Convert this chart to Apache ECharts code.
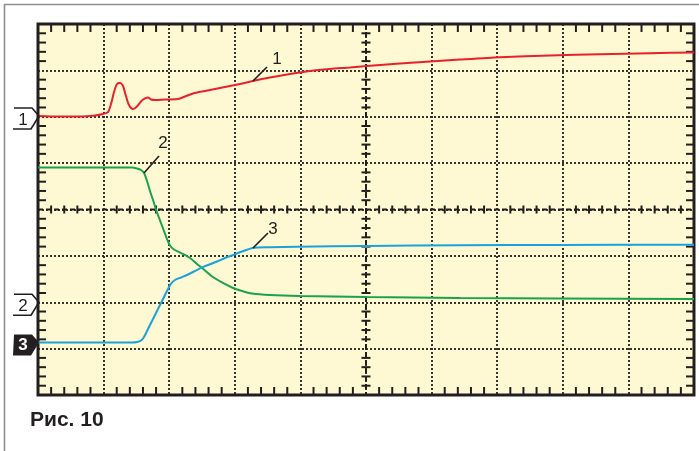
<!DOCTYPE html>
<html><head><meta charset="utf-8">
<script src="https://cdn.jsdelivr.net/npm/echarts@6/dist/echarts.min.js"></script>
<style>html,body{margin:0;padding:0;background:#fff}#c{width:699px;height:451px}</style>
</head><body><div id="c"></div>
<script>
// Screen divisions: x 0..10, y 0..8 (bottom = 0)
const trace1Points = [
  [0,6.016],[0.335,6.005],[0.640,6.005],[0.869,6.027],[0.991,6.059],[1.067,6.102],
  [1.113,6.275],[1.159,6.534],[1.204,6.706],[1.250,6.728],[1.296,6.663],[1.341,6.447],
  [1.387,6.253],[1.448,6.167],[1.509,6.221],[1.570,6.329],[1.631,6.394],[1.677,6.415],
  [1.723,6.372],[1.784,6.361],[1.936,6.372],[2.134,6.383],[2.241,6.437],[2.363,6.501],
  [2.546,6.555],[2.774,6.620],[3.079,6.706],[3.277,6.771],[3.537,6.846],[3.841,6.922],
  [4.146,6.987],[4.451,7.030],[4.756,7.062],[5.015,7.094],[5.518,7.148],[5.976,7.191],
  [6.433,7.234],[7.043,7.285],[7.805,7.321],[8.567,7.349],[9.329,7.371],[10,7.385]
];
const trace2Points = [
  [0,4.906],[0.640,4.906],[1.250,4.906],[1.433,4.906],[1.509,4.884],[1.570,4.852],
  [1.616,4.787],[1.662,4.615],[1.707,4.399],[1.761,4.173],[1.806,3.968],[1.860,3.763],
  [1.921,3.536],[1.966,3.364],[2.012,3.224],[2.073,3.137],[2.195,3.051],[2.317,2.954],
  [2.424,2.825],[2.546,2.685],[2.668,2.544],[2.805,2.426],[2.957,2.318],[3.110,2.243],
  [3.262,2.189],[3.537,2.156],[3.994,2.135],[5.015,2.113],[6.433,2.092],[7.957,2.081],[10,2.070]
];
const trace3Points = [
  [0,1.132],[0.640,1.132],[1.250,1.132],[1.433,1.132],[1.509,1.143],[1.570,1.175],
  [1.616,1.251],[1.677,1.423],[1.738,1.596],[1.799,1.768],[1.860,1.941],[1.921,2.113],
  [1.982,2.286],[2.027,2.404],[2.088,2.480],[2.180,2.534],[2.271,2.588],[2.378,2.663],
  [2.470,2.732],[2.591,2.803],[2.729,2.879],[2.851,2.954],[2.973,3.019],[3.110,3.094],
  [3.277,3.170],[3.537,3.185],[3.948,3.198],[5.015,3.213],[6.433,3.228],[7.957,3.235],[10,3.241]
];
const traceNames = ['1','2','3'];
const traceColors = ['#e8212b','#1aa24c','#1aa2dd'];
const labelAnchors = [[3.277,6.771],[1.616,4.787],[3.277,3.170]];
const markerNames = ['1','2','3'];
const markerLevels = [6.016, 2.0, 1.132];
const caption = 'Рис. 10';

// layout / style constants
const INK = '#231f20';
const leaderOffsets = [[14,-14],[15,-17],[15,-15]];
const textOffsets = [[24,-22],[19,-30],[20,-19]];

// minor-division tick positions: kind 0 = centre h-line, 1 = centre v-line,
// 2 = tick on centre h-line, 3 = tick on centre v-line,
// 4 = bottom border, 5 = top border, 6 = left border, 7 = right border
const tickItems = [[0,0],[1,0]];
for (let k = 1; k < 50; k++) { if (k % 5) { tickItems.push([2, k / 5]); tickItems.push([4, k / 5]); tickItems.push([5, k / 5]); } }
for (let k = 1; k < 40; k++) { if (k % 5) { tickItems.push([3, k / 5]); tickItems.push([6, k / 5]); tickItems.push([7, k / 5]); } }

function axisCfg(pos, isX, showSplit) {
  return {
    type: 'value', position: pos, min: 0, max: isX ? 10 : 8, interval: 1,
    axisLine: { show: false }, axisLabel: { show: false },
    axisTick: { show: false }, minorTick: { show: false },
    splitLine: { show: showSplit, lineStyle: { color: INK, width: 1.8, type: [2, 2] } },
    minorSplitLine: { show: false }
  };
}

const chart = echarts.init(document.getElementById('c'));
chart.setOption({
  backgroundColor: '#ffffff',
  animation: false,
  title: {
    text: caption, left: 25, top: 405,
    textStyle: { fontFamily: 'Liberation Sans', fontWeight: 'bold', fontSize: 21, color: INK }
  },
  grid: {
    left: 38, top: 24, width: 656, height: 371, show: true,
    backgroundColor: '#fef9d3', borderColor: INK, borderWidth: 3,
    containLabel: false, outerBoundsMode: 'none'
  },
  xAxis: [axisCfg('bottom', true, true), axisCfg('top', true, false)],
  yAxis: [axisCfg('left', false, true), axisCfg('right', false, false)],
  graphic: [
    { type: 'line', shape: { x1: 4, y1: 4.5, x2: 699, y2: 4.5 }, style: { stroke: '#8f8f8f', lineWidth: 1.6 }, silent: true },
    { type: 'line', shape: { x1: 4.5, y1: 4, x2: 4.5, y2: 451 }, style: { stroke: '#8f8f8f', lineWidth: 1.6 }, silent: true }
  ],
  series: [
    {
      type: 'custom', name: 'ticks', z: 2, silent: true, clip: false,
      data: tickItems,
      renderItem: function (params, api) {
        const cs = params.coordSys;
        const kind = api.value(0), pos = api.value(1);
        const c = api.coord([5, 4]);
        const st = { stroke: INK, lineWidth: 2 };
        const L = 8;
        let p;
        switch (kind) {
          case 0:
            return { type: 'line', shape: { x1: cs.x, y1: c[1], x2: cs.x + cs.width, y2: c[1] },
                     style: { stroke: INK, lineWidth: 2, lineDash: [5, 3] } };
          case 1:
            return { type: 'line', shape: { x1: c[0], y1: cs.y, x2: c[0], y2: cs.y + cs.height },
                     style: { stroke: INK, lineWidth: 2, lineDash: [5, 3] } };
          case 2:
            p = api.coord([pos, 4]);
            return { type: 'line', shape: { x1: p[0], y1: p[1] - 4, x2: p[0], y2: p[1] + 4 }, style: st };
          case 3:
            p = api.coord([5, pos]);
            return { type: 'line', shape: { x1: p[0] - 4.5, y1: p[1], x2: p[0] + 4.5, y2: p[1] }, style: st };
          case 4:
            p = api.coord([pos, 0]);
            return { type: 'line', shape: { x1: p[0], y1: p[1], x2: p[0], y2: p[1] - L }, style: st };
          case 5:
            p = api.coord([pos, 8]);
            return { type: 'line', shape: { x1: p[0], y1: p[1], x2: p[0], y2: p[1] + L }, style: st };
          case 6:
            p = api.coord([0, pos]);
            return { type: 'line', shape: { x1: p[0], y1: p[1], x2: p[0] + L, y2: p[1] }, style: st };
          default:
            p = api.coord([10, pos]);
            return { type: 'line', shape: { x1: p[0], y1: p[1], x2: p[0] - L, y2: p[1] }, style: st };
        }
      }
    },
    ...[trace1Points, trace2Points, trace3Points].map((d, i) => ({
      type: 'line', name: traceNames[i], data: d, z: 3, showSymbol: false, symbol: 'none',
      smooth: 0.25, lineStyle: { color: traceColors[i], width: 2 }, silent: true
    })),
    {
      type: 'custom', name: 'labels', z: 4, silent: true, clip: false,
      data: labelAnchors.map((a, i) => [a[0], a[1], i]),
      renderItem: function (params, api) {
        const i = api.value(2);
        const p = api.coord([api.value(0), api.value(1)]);
        const lo = leaderOffsets[i], to = textOffsets[i];
        return { type: 'group', children: [
          { type: 'line', shape: { x1: p[0], y1: p[1], x2: p[0] + lo[0], y2: p[1] + lo[1] },
            style: { stroke: INK, lineWidth: 1.6 } },
          { type: 'text', x: p[0] + to[0], y: p[1] + to[1],
            style: { text: traceNames[i], fill: INK, font: '17px "Liberation Sans"', align: 'center', verticalAlign: 'middle' } }
        ] };
      }
    },
    {
      type: 'custom', name: 'markers', z: 5, silent: true, clip: false,
      data: markerLevels.map((v, i) => [0, v, i]),
      renderItem: function (params, api) {
        const i = api.value(2);
        const p = api.coord([0, api.value(1)]);
        const tx = p[0] + 1, ty = p[1];
        const pts = [[tx - 25, ty - 8], [tx - 7, ty - 8], [tx, ty], [tx - 8, ty + 13], [tx - 26, ty + 13]];
        if (i === 2) {
          return { type: 'group', children: [
            { type: 'polygon', shape: { points: pts }, style: { fill: INK } },
            { type: 'text', x: tx - 16, y: ty + 3, style: { text: markerNames[i], fill: '#fff', font: 'bold 17px "Liberation Sans"', align: 'center', verticalAlign: 'middle' } }
          ] };
        }
        return { type: 'group', children: [
          { type: 'polyline', shape: { points: pts }, style: { stroke: INK, lineWidth: 1.6, fill: null } },
          { type: 'text', x: tx - 16, y: ty + 4, style: { text: markerNames[i], fill: INK, font: '17px "Liberation Sans"', align: 'center', verticalAlign: 'middle' } }
        ] };
      }
    }
  ]
});
</script></body></html>
